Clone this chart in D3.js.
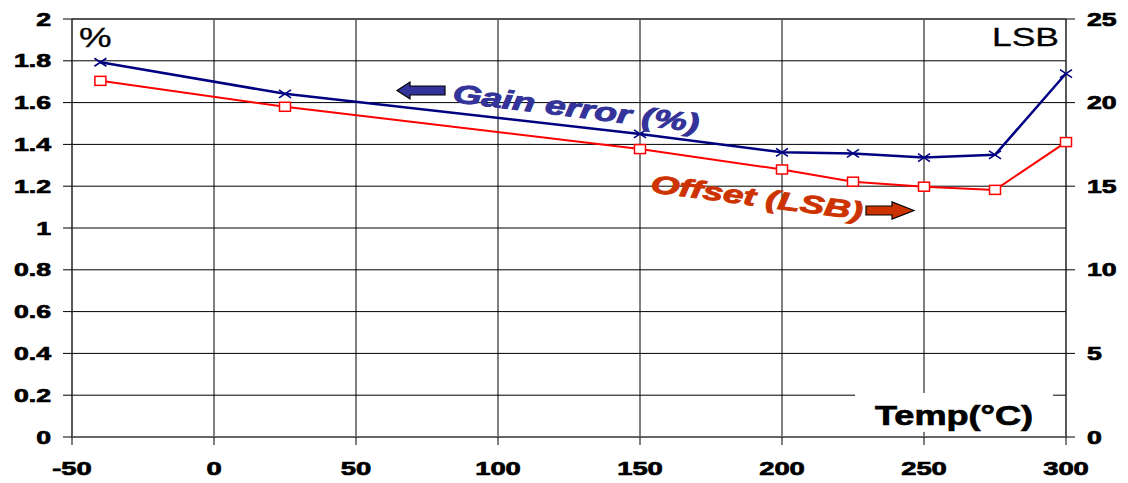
<!DOCTYPE html>
<html><head><meta charset="utf-8">
<script src="https://cdn.jsdelivr.net/npm/d3@7"></script>
<style>body{margin:0;background:#fff}svg{display:block}text{font-family:"Liberation Sans",Arial,sans-serif}</style>
</head><body><svg id="c" width="1128" height="483"></svg>
<script>
const temps = [-40, 25, 150, 200, 225, 250, 275, 300];
const gainError = [1.793, 1.642, 1.450, 1.362, 1.357, 1.337, 1.350, 1.739];
const offsetLSB = [21.3, 19.75, 17.22, 16.0, 15.27, 14.97, 14.78, 17.64];
const xTicks = [-50, 0, 50, 100, 150, 200, 250, 300];
const yLeftTicks = [0, 0.2, 0.4, 0.6, 0.8, 1, 1.2, 1.4, 1.6, 1.8, 2];
const yRightTicks = [0, 5, 10, 15, 20, 25];

const svg = d3.select("#c");
const L = 72, R = 1066, T = 19, B = 437;
const x = d3.scaleLinear().domain([-50, 300]).range([L, R]);
const yL = d3.scaleLinear().domain([0, 2]).range([B, T]);
const yR = d3.scaleLinear().domain([0, 25]).range([B, T]);
const SX = 1.48;

// grid
svg.append("g").selectAll("line").data(yLeftTicks.slice(1, -1)).join("line")
  .attr("x1", L).attr("x2", R).attr("y1", d => yL(d)).attr("y2", d => yL(d))
  .attr("stroke", "#000").attr("stroke-width", 1);
svg.append("g").selectAll("line").data(xTicks.slice(1, -1)).join("line")
  .attr("x1", d => x(d)).attr("x2", d => x(d)).attr("y1", T).attr("y2", B)
  .attr("stroke", "#000").attr("stroke-width", 1);

// frame
svg.append("line").attr("x1", L).attr("x2", R).attr("y1", T).attr("y2", T).attr("stroke", "#555").attr("stroke-width", 2);
svg.append("line").attr("x1", L).attr("x2", L).attr("y1", T).attr("y2", B).attr("stroke", "#222").attr("stroke-width", 1.5);
svg.append("line").attr("x1", R).attr("x2", R).attr("y1", T).attr("y2", B).attr("stroke", "#222").attr("stroke-width", 1.5);

// Temp label box (white, covers grid)
svg.append("rect").attr("x", 855).attr("y", 393).attr("width", 198).attr("height", 39).attr("fill", "#fff");

svg.append("line").attr("x1", L).attr("x2", R).attr("y1", B).attr("y2", B).attr("stroke", "#666").attr("stroke-width", 2);

// ticks
svg.append("g").selectAll("line").data(yLeftTicks).join("line")
  .attr("x1", L - 9).attr("x2", L).attr("y1", d => yL(d)).attr("y2", d => yL(d)).attr("stroke", "#000");
svg.append("g").selectAll("line").data(yRightTicks).join("line")
  .attr("x1", R).attr("x2", R + 9).attr("y1", d => yR(d)).attr("y2", d => yR(d)).attr("stroke", "#000");
svg.append("g").selectAll("line").data(xTicks).join("line")
  .attr("x1", d => x(d)).attr("x2", d => x(d)).attr("y1", B).attr("y2", B + 8).attr("stroke", "#000");

// tick labels
const fmtL = d => d === 0 || d === 1 || d === 2 ? String(d) : d.toFixed(1);
const heavy = sel => sel.attr("font-weight", "bold").attr("stroke", "#000").attr("stroke-width", 0.7);
svg.append("g").selectAll("text").data(yLeftTicks).join("text")
  .attr("transform", d => `translate(51,${yL(d) + 6.5}) scale(${SX},1)`)
  .attr("text-anchor", "end").attr("font-size", 18).call(heavy).text(fmtL);
svg.append("g").selectAll("text").data(yRightTicks).join("text")
  .attr("transform", d => `translate(1087,${yR(d) + 6.5}) scale(${SX},1)`)
  .attr("text-anchor", "start").attr("font-size", 18).call(heavy).text(d => d);
svg.append("g").selectAll("text").data(xTicks).join("text")
  .attr("transform", d => `translate(${x(d)},475) scale(${SX},1)`)
  .attr("text-anchor", "middle").attr("font-size", 18.5).call(heavy).text(d => d);

// unit labels
svg.append("text").attr("transform", "translate(79,47) scale(1.36,1)").attr("font-size", 27).attr("stroke", "#000").attr("stroke-width", 0.3).text("%");
svg.append("text").attr("transform", "translate(1059,46) scale(1.42,1)").attr("text-anchor", "end").attr("font-size", 25).attr("stroke", "#000").attr("stroke-width", 0.3).text("LSB");
svg.append("text").attr("transform", "translate(875,425) scale(1.29,1)").attr("font-size", 28).call(heavy).text("Temp(°C)");

// series
const gainData = temps.map((t, i) => [t, gainError[i]]);
const offData = temps.map((t, i) => [t, offsetLSB[i]]);
svg.append("path").datum(offData).attr("fill", "none").attr("stroke", "#ff0000").attr("stroke-width", 2)
  .attr("d", d3.line().x(d => x(d[0])).y(d => yR(d[1])));
svg.append("path").datum(gainData).attr("fill", "none").attr("stroke", "#000080").attr("stroke-width", 2.5)
  .attr("d", d3.line().x(d => x(d[0])).y(d => yL(d[1])));

svg.append("g").selectAll("rect").data(offData).join("rect")
  .attr("x", d => x(d[0]) - 5.5).attr("y", d => yR(d[1]) - 4.5).attr("width", 11).attr("height", 9)
  .attr("fill", "#fff").attr("stroke", "#ff0000").attr("stroke-width", 1.5);
svg.append("g").selectAll("path").data(gainData).join("path")
  .attr("d", d => { const cx = x(d[0]), cy = yL(d[1]); return `M${cx-6},${cy-4}L${cx+6},${cy+4}M${cx-6},${cy+4}L${cx+6},${cy-4}`; })
  .attr("stroke", "#000080").attr("stroke-width", 1.6).attr("fill", "none");

// annotations
svg.append("path").attr("d", "M397,90.5 L410,82 L410,86 L445,86 L445,95 L410,95 L410,99 Z")
  .attr("fill", "#333399").attr("stroke", "#000").attr("stroke-width", 1.2);
svg.append("text").attr("transform", "translate(452,102) rotate(7) scale(1.43,1)")
  .attr("font-size", 26).attr("font-weight", "bold").attr("font-style", "italic").attr("fill", "#333399")
  .attr("stroke", "#333399").attr("stroke-width", 0.9).text("Gain error (%)");

svg.append("path").attr("d", "M914,210.5 L892,202 L892,206 L866,206 L866,215 L892,215 L892,219 Z")
  .attr("fill", "#cc3300").attr("stroke", "#000").attr("stroke-width", 1.2);
svg.append("text").attr("transform", "translate(650,192) rotate(7.5) scale(1.47,1)")
  .attr("font-size", 25).attr("font-weight", "bold").attr("font-style", "italic").attr("fill", "#cc3300")
  .attr("stroke", "#cc3300").attr("stroke-width", 0.9).text("Offset (LSB)");
</script></body></html>
